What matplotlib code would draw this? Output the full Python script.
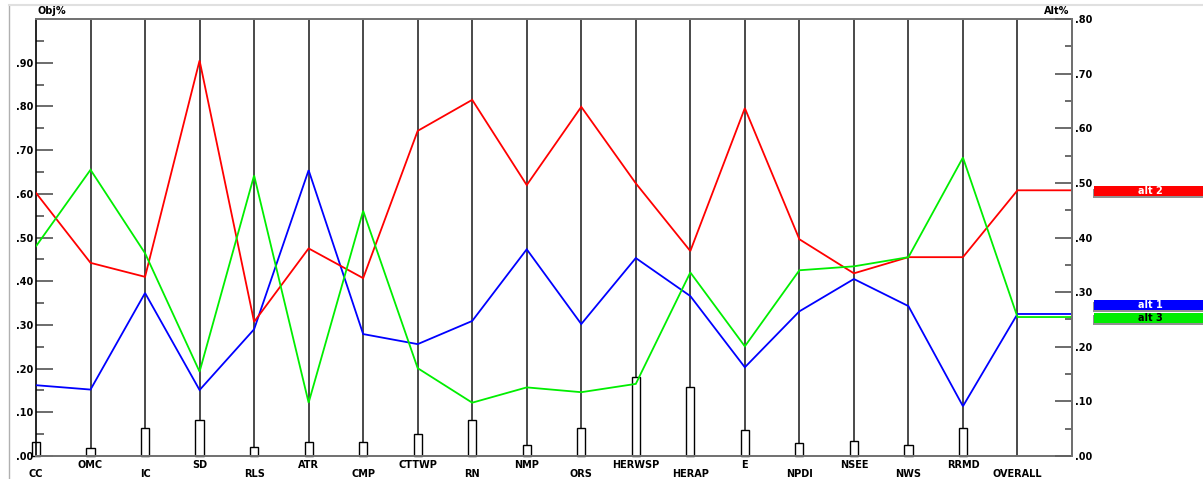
import numpy as np
import matplotlib.pyplot as plt
from matplotlib.patches import Rectangle
import matplotlib.transforms as mtransforms

# criteria along the x axis
criteria = ['CC', 'OMC', 'IC', 'SD', 'RLS', 'ATR', 'CMP', 'CTTWP', 'RN', 'NMP',
            'ORS', 'HERWSP', 'HERAP', 'E', 'NPDI', 'NSEE', 'NWS', 'RRMD', 'OVERALL']

# criterion weights (small bars at the bottom, Obj% scale)
weights = [0.031, 0.018, 0.063, 0.082, 0.020, 0.033, 0.033, 0.050, 0.082, 0.025,
           0.063, 0.180, 0.158, 0.059, 0.029, 0.034, 0.025, 0.063]

# alternative scores per criterion (Obj% scale), last value = OVERALL
alt1 = [0.162, 0.152, 0.373, 0.151, 0.290, 0.654, 0.279, 0.256, 0.309, 0.473,
        0.302, 0.453, 0.366, 0.203, 0.331, 0.405, 0.343, 0.114, 0.325]
alt2 = [0.602, 0.442, 0.410, 0.905, 0.307, 0.475, 0.407, 0.744, 0.815, 0.620,
        0.799, 0.624, 0.469, 0.796, 0.496, 0.418, 0.455, 0.455, 0.608]
alt3 = [0.480, 0.655, 0.464, 0.193, 0.642, 0.122, 0.561, 0.201, 0.122, 0.157,
        0.146, 0.165, 0.420, 0.251, 0.425, 0.434, 0.455, 0.683, 0.318]

alts = [('alt 1', alt1, '#0000ff', 'white'),
        ('alt 2', alt2, '#ff0000', 'white'),
        ('alt 3', alt3, '#00ee00', 'black')]

W, H = 1203, 479
fig = plt.figure(figsize=(W / 100, H / 100), dpi=100)
ax = fig.add_axes([36 / W, 1 - 456 / H, (1072 - 36) / W, (456 - 19) / H])
ax2 = ax.twinx()

n = len(criteria)
x = np.arange(n)
ax.set_xlim(0, n)
ax.set_ylim(0, 1.0)
ax2.set_ylim(0, 0.8)

# vertical criterion lines
ax.vlines(x[1:], 0, 1, color='#3a3a3a', lw=1.3, zorder=1)

# weight bars
ax.bar(x[:-1], weights, width=0.15, facecolor='white', edgecolor='black',
       lw=1.0, zorder=2, clip_on=False)

# alternative lines, extended horizontally from OVERALL to the right axis
for name, vals, col, tcol in alts:
    xs = list(x) + [n]
    ys = list(vals) + [vals[-1]]
    ax.plot(xs, ys, color=col, lw=1.3, zorder=3, solid_joinstyle='miter')

# spines
ax.spines['left'].set_color('black')
ax.spines['left'].set_linewidth(1.2)
for s in ['top', 'bottom', 'right']:
    ax.spines[s].set_color('#707070')
    ax.spines[s].set_linewidth(1.4)
for s in ['top', 'bottom', 'left']:
    ax2.spines[s].set_visible(False)
ax2.spines['right'].set_color('#707070')
ax2.spines['right'].set_linewidth(1.4)

fnt = dict(fontsize=7, fontweight='bold', family='DejaVu Sans')

# left axis ticks
ax.set_yticks(np.arange(0, 0.91, 0.1))
ax.set_yticklabels(['.%02d' % round(v * 100) for v in np.arange(0, 0.91, 0.1)], **fnt)
ax.set_yticks(np.arange(0.05, 1.0, 0.1), minor=True)
ax.tick_params(axis='y', which='major', direction='in', length=12, width=1.3,
               color='#606060', pad=2)
ax.tick_params(axis='y', which='minor', direction='in', length=6, width=1.3,
               color='#606060')
ax.set_xticks([])

# right axis ticks
ax2.set_yticks(np.arange(0, 0.81, 0.1))
ax2.set_yticklabels(['.%02d' % round(v * 100) for v in np.arange(0, 0.81, 0.1)], **fnt)
ax2.set_yticks(np.arange(0.05, 0.8, 0.1), minor=True)
ax2.tick_params(axis='y', which='major', direction='in', length=12, width=1.3,
                color='#606060', pad=2)
ax2.tick_params(axis='y', which='minor', direction='in', length=5, width=1.3,
                color='#606060')

# staggered criterion labels
trans = mtransforms.blended_transform_factory(ax.transData, ax.transAxes)
for i, c in enumerate(criteria):
    yy = -0.0485 if i % 2 == 0 else -0.0275
    ax.text(i, yy, c, transform=trans, ha='center', va='baseline', **fnt)

ax.text(0.001, 1.007, 'Obj%', transform=ax.transAxes, ha='left', va='bottom', **fnt)
ax.text(0.997, 1.007, 'Alt%', transform=ax.transAxes, ha='right', va='bottom', **fnt)

# value boxes on the right, stacked to avoid overlap
ftrans = mtransforms.blended_transform_factory(fig.transFigure, ax2.transData)
order = sorted(alts, key=lambda a: a[1][-1])
gap = 0.024
prev = -1
bh = 0.018
for name, vals, col, tcol in order:
    yc = max(vals[-1] * 0.8, prev + gap)
    prev = yc
    yc -= 0.002
    fig.patches.append(Rectangle((1093 / W, yc - bh / 2 - 0.004), 1, bh,
                                 transform=ftrans, facecolor='#909090',
                                 edgecolor='none'))
    fig.patches.append(Rectangle((1094 / W, yc - bh / 2), 1, bh,
                                 transform=ftrans, facecolor=col,
                                 edgecolor='none'))
    fig.text(1150 / W, yc, name, transform=ftrans, ha='center', va='center',
             color=tcol, **fnt)

# faint outer frame
fig.add_artist(plt.Line2D([9 / W, 9 / W], [0, 1 - 5 / H], transform=fig.transFigure,
                          color='#b0b0b0', lw=1))
fig.add_artist(plt.Line2D([9 / W, 1], [1 - 5 / H, 1 - 5 / H], transform=fig.transFigure,
                          color='#e0e0e0', lw=1.5))

fig.savefig('out.png', dpi=100)
